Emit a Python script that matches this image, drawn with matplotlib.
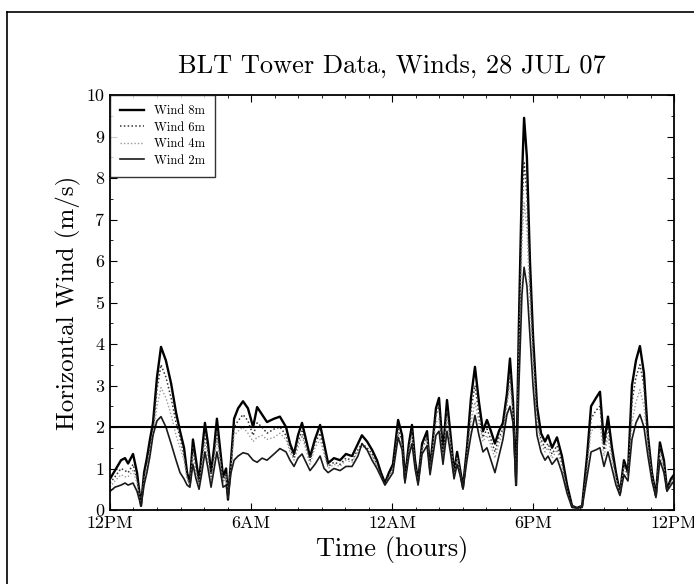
import numpy as np
import matplotlib
matplotlib.use('Agg')
import matplotlib.pyplot as plt
from matplotlib.lines import Line2D
from matplotlib.ticker import MultipleLocator

plt.rcParams['font.family'] = 'serif'
plt.rcParams['font.serif'] = ['cmr10', 'DejaVu Serif']
plt.rcParams['mathtext.fontset'] = 'cm'
plt.rcParams['axes.unicode_minus'] = False

# time in hours since 12PM
hours = [0.00, 0.21, 0.47, 0.64, 0.77, 0.98, 1.15, 1.32, 1.45, 1.57,
         1.70, 1.83, 2.00, 2.17, 2.38, 2.60, 2.81, 2.98, 3.15, 3.28,
         3.40, 3.53, 3.66, 3.79, 3.91, 4.04, 4.17, 4.30, 4.43, 4.55,
         4.68, 4.81, 4.94, 5.02, 5.15, 5.28, 5.45, 5.66, 5.87, 6.09,
         6.26, 6.47, 6.68, 6.98, 7.23, 7.49, 7.66, 7.83, 8.00, 8.17,
         8.34, 8.51, 8.72, 8.94, 9.11, 9.28, 9.53, 9.79, 10.04, 10.30,
         10.55, 10.72, 10.94, 11.15, 11.36, 11.53, 11.70, 11.87, 12.04, 12.26,
         12.43, 12.55, 12.72, 12.85, 12.98, 13.11, 13.28, 13.49, 13.62, 13.74,
         13.87, 14.00, 14.17, 14.34, 14.51, 14.64, 14.77, 14.89, 15.02, 15.19,
         15.36, 15.53, 15.70, 15.87, 16.04, 16.21, 16.38, 16.55, 16.72, 16.89,
         17.02, 17.15, 17.28, 17.40, 17.53, 17.62, 17.74, 17.87, 18.00, 18.17,
         18.34, 18.51, 18.64, 18.81, 19.02, 19.23, 19.45, 19.66, 19.87, 20.09,
         20.30, 20.47, 20.68, 20.85, 21.02, 21.19, 21.36, 21.53, 21.70, 21.87,
         22.04, 22.21, 22.38, 22.55, 22.72, 22.89, 23.06, 23.23, 23.40, 23.57,
         23.70, 23.87, 24.00]

wind_8m = [0.75, 0.95, 1.20, 1.25, 1.12, 1.35, 0.90, 0.10, 0.90, 1.25,
           1.70, 2.10, 3.20, 3.93, 3.60, 3.05, 2.35, 1.90, 1.50, 0.90,
           0.65, 1.70, 1.20, 0.70, 1.40, 2.10, 1.60, 0.90, 1.50, 2.20,
           1.50, 0.80, 1.00, 0.25, 1.20, 2.20, 2.45, 2.62, 2.45, 2.00,
           2.48, 2.30, 2.12, 2.20, 2.25, 2.00, 1.60, 1.35, 1.80, 2.10,
           1.70, 1.28, 1.70, 2.05, 1.60, 1.13, 1.25, 1.20, 1.35, 1.30,
           1.60, 1.80, 1.65, 1.45, 1.20, 0.90, 0.65, 0.90, 1.10, 2.17,
           1.80, 0.75, 1.60, 2.05, 1.20, 0.70, 1.60, 1.90, 1.00, 1.70,
           2.45, 2.70, 1.40, 2.65, 1.70, 0.90, 1.40, 1.00, 0.55, 1.50,
           2.70, 3.45, 2.60, 1.90, 2.17, 1.90, 1.60, 1.90, 2.10, 2.80,
           3.65, 2.60, 0.60, 4.50, 8.00, 9.45, 8.50, 6.00, 4.20, 2.50,
           1.85, 1.65, 1.80, 1.50, 1.75, 1.30, 0.60, 0.10, 0.05, 0.10,
           1.30, 2.50, 2.70, 2.85, 1.60, 2.25, 1.50, 0.90, 0.40, 1.20,
           0.90, 3.00, 3.60, 3.95, 3.30, 1.80, 0.90, 0.35, 1.63, 1.20,
           0.50, 0.75, 0.85]

wind_6m = [0.65, 0.80, 1.00, 0.95, 0.90, 1.10, 0.75, 0.10, 0.80, 1.10,
           1.50, 1.90, 2.90, 3.50, 3.20, 2.70, 2.10, 1.75, 1.30, 0.80,
           0.60, 1.50, 1.00, 0.65, 1.20, 1.80, 1.40, 0.80, 1.30, 1.90,
           1.30, 0.70, 0.90, 0.30, 1.10, 2.00, 2.15, 2.30, 2.15, 1.80,
           2.10, 2.00, 1.85, 1.95, 2.00, 1.80, 1.50, 1.25, 1.65, 1.90,
           1.55, 1.20, 1.60, 1.85, 1.45, 1.05, 1.15, 1.10, 1.25, 1.20,
           1.45, 1.60, 1.50, 1.35, 1.10, 0.85, 0.60, 0.85, 1.00, 1.95,
           1.65, 0.70, 1.50, 1.90, 1.10, 0.65, 1.50, 1.75, 0.95, 1.60,
           2.30, 2.50, 1.30, 2.40, 1.55, 0.85, 1.30, 0.95, 0.50, 1.40,
           2.40, 3.00, 2.30, 1.75, 1.95, 1.70, 1.40, 1.75, 1.95, 2.60,
           3.30, 2.40, 0.60, 4.00, 7.20, 8.40, 7.60, 5.50, 3.90, 2.30,
           1.70, 1.50, 1.60, 1.35, 1.55, 1.15, 0.50, 0.08, 0.05, 0.08,
           1.10, 2.20, 2.40, 2.50, 1.45, 2.00, 1.35, 0.80, 0.40, 1.10,
           0.85, 2.60, 3.20, 3.50, 3.00, 1.70, 0.85, 0.35, 1.50, 1.10,
           0.50, 0.70, 0.80]

wind_4m = [0.55, 0.70, 0.85, 0.80, 0.80, 0.95, 0.65, 0.10, 0.70, 1.00,
           1.40, 1.80, 2.50, 2.95, 2.70, 2.30, 1.80, 1.50, 1.20, 0.75,
           0.60, 1.30, 0.90, 0.60, 1.10, 1.60, 1.20, 0.70, 1.20, 1.70,
           1.20, 0.65, 0.80, 0.30, 1.00, 1.80, 1.90, 2.00, 1.85, 1.65,
           1.75, 1.80, 1.70, 1.75, 1.85, 1.70, 1.40, 1.20, 1.50, 1.80,
           1.45, 1.10, 1.50, 1.70, 1.35, 1.00, 1.10, 1.05, 1.20, 1.15,
           1.40, 1.55, 1.45, 1.30, 1.05, 0.80, 0.60, 0.80, 0.95, 1.85,
           1.55, 0.70, 1.40, 1.80, 1.05, 0.65, 1.45, 1.70, 0.90, 1.50,
           2.10, 2.20, 1.25, 2.20, 1.50, 0.80, 1.25, 0.90, 0.50, 1.30,
           2.10, 2.60, 2.10, 1.65, 1.80, 1.55, 1.25, 1.60, 1.85, 2.50,
           3.00, 2.30, 0.60, 3.60, 6.40, 7.40, 6.80, 5.00, 3.60, 2.10,
           1.60, 1.40, 1.50, 1.25, 1.45, 1.05, 0.45, 0.07, 0.05, 0.07,
           0.95, 1.90, 2.00, 2.05, 1.30, 1.75, 1.20, 0.75, 0.40, 1.00,
           0.80, 2.10, 2.60, 2.90, 2.50, 1.50, 0.80, 0.30, 1.35, 1.00,
           0.45, 0.65, 0.75]

wind_2m = [0.45, 0.55, 0.60, 0.65, 0.60, 0.65, 0.45, 0.10, 0.60, 0.90,
           1.30, 1.80, 2.15, 2.25, 2.00, 1.60, 1.20, 0.90, 0.75, 0.60,
           0.55, 1.10, 0.75, 0.50, 0.90, 1.40, 1.00, 0.55, 1.00, 1.40,
           1.00, 0.55, 0.60, 0.30, 0.90, 1.20, 1.30, 1.38, 1.35, 1.20,
           1.15, 1.25, 1.20, 1.35, 1.48, 1.40, 1.20, 1.05, 1.25, 1.35,
           1.15, 0.95, 1.10, 1.30, 1.00, 0.90, 1.00, 0.95, 1.05, 1.05,
           1.30, 1.60, 1.45, 1.20, 1.00, 0.80, 0.60, 0.75, 0.90, 1.75,
           1.45, 0.65, 1.30, 1.60, 1.00, 0.60, 1.35, 1.55, 0.85, 1.30,
           1.80, 1.90, 1.10, 1.90, 1.30, 0.75, 1.10, 0.85, 0.50, 1.20,
           1.80, 2.28, 1.80, 1.40, 1.50, 1.20, 0.90, 1.30, 1.70, 2.30,
           2.50, 2.10, 0.60, 3.00, 5.20, 5.85, 5.40, 4.20, 3.00, 1.80,
           1.40, 1.20, 1.30, 1.10, 1.25, 0.90, 0.40, 0.06, 0.05, 0.06,
           0.80, 1.40, 1.45, 1.50, 1.05, 1.40, 1.00, 0.60, 0.35, 0.85,
           0.70, 1.70, 2.10, 2.30, 2.00, 1.30, 0.70, 0.30, 1.20, 0.90,
           0.45, 0.60, 0.70]

tick_hours = [0, 6, 12, 18, 24]
tick_labels = ['12PM', '6AM', '12AM', '6PM', '12PM']
threshold = 2.0

fig = plt.figure(figsize=(6.94, 5.84), dpi=100)
ax = fig.add_axes([0.1585, 0.1267, 0.8127, 0.7106])

# frame of the scanned page
fig.add_artist(Line2D([0.0105, 1.0], [0.979, 0.979], transform=fig.transFigure,
                      color='black', lw=1.2))
fig.add_artist(Line2D([0.0105, 0.0105], [0.0, 0.979], transform=fig.transFigure,
                      color='black', lw=1.2))

ax.plot(hours, wind_8m, color='black', lw=1.7, label='Wind 8m')
ax.plot(hours, wind_6m, color='#333333', lw=1.1, ls=(0, (1, 1.5)), label='Wind 6m')
ax.plot(hours, wind_4m, color='#9a9a9a', lw=1.0, ls=(0, (1, 1.5)), label='Wind 4m')
ax.plot(hours, wind_2m, color='#1a1a1a', lw=1.2, label='Wind 2m')
ax.axhline(threshold, color='black', lw=1.5)

ax.set_xlim(0, 24)
ax.set_ylim(0, 10)
ax.set_xticks(tick_hours)
ax.set_xticklabels(tick_labels)
ax.xaxis.set_minor_locator(MultipleLocator(1))
ax.yaxis.set_major_locator(MultipleLocator(1))
ax.yaxis.set_minor_locator(MultipleLocator(0.5))
ax.tick_params(which='both', direction='in', top=True, right=True)
ax.tick_params(which='major', length=5, labelsize=13, pad=4)
ax.tick_params(which='minor', length=2.5)
for s in ax.spines.values():
    s.set_linewidth(1.3)

ax.set_title('BLT Tower Data, Winds, 28 JUL 07', fontsize=19, pad=16)
ax.set_xlabel('Time (hours)', fontsize=19, labelpad=4)
ax.set_ylabel('Horizontal Wind (m/s)', fontsize=18, labelpad=4)

leg = ax.legend(loc='upper left', fontsize=9, frameon=True, fancybox=False,
                borderaxespad=0, handlelength=1.9, labelspacing=0.35,
                borderpad=0.8, handletextpad=0.8)
leg.get_frame().set_edgecolor('black')
leg.get_frame().set_linewidth(1.0)

fig.savefig('out.png', dpi=100)
